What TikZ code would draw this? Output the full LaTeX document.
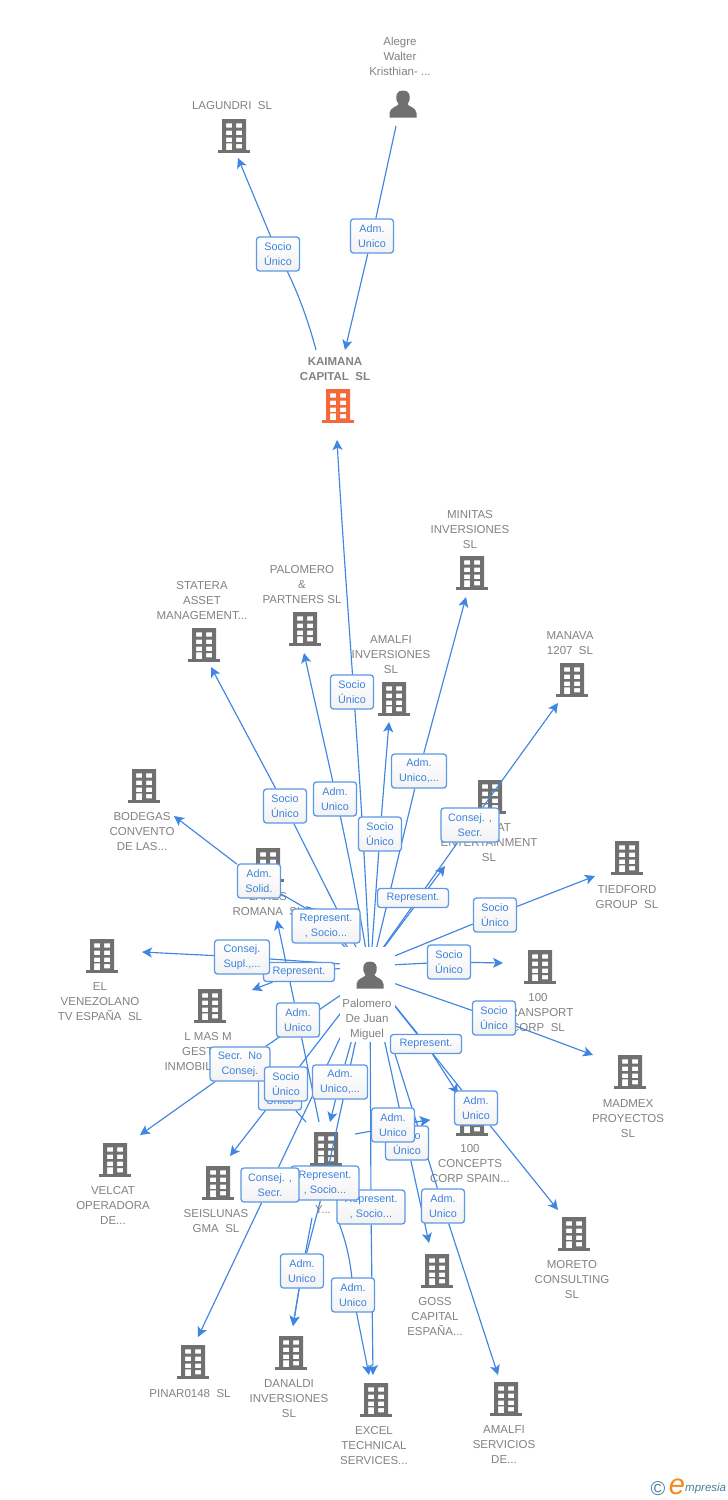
\documentclass[tikz,border=0pt]{standalone}
\usepackage{fontspec}
\setmainfont{Liberation Sans}
\usetikzlibrary{arrows.meta,calc}
\definecolor{edgeblue}{HTML}{3F86E2}
\definecolor{labtext}{HTML}{3E82DC}
\definecolor{nametext}{HTML}{828282}
\definecolor{iconcol}{HTML}{707070}
\definecolor{maincol}{HTML}{F4683A}
\definecolor{logocol}{HTML}{4A7F9A}
\definecolor{logoor}{HTML}{F28A1E}
\pgfdeclarelayer{base}\pgfdeclarelayer{edges}\pgfdeclarelayer{cover}
\pgfsetlayers{base,edges,cover,main}
\tikzset{
  pics/bldg/.style={code={
    \fill[#1,even odd rule]
      (-12,-18) rectangle (12,14)
      (-8,-13.7) rectangle (-2,-9.3) (2,-13.7) rectangle (8,-9.3)
      (-8,-6.3) rectangle (-2,-2) (2,-6.3) rectangle (8,-2)
      (-8,0.7) rectangle (-2,5) (2,0.7) rectangle (8,5)
      (-8,6.3) rectangle (-2,14) (2,7) rectangle (8,11.3);
    \fill[#1] (-16,13) rectangle (16,16);
  }},
  pics/person/.style={code={
    \fill[iconcol] (0,-13.5) .. controls (-6,-13.5) and (-7.5,-9) .. (-6.5,-4)
      .. controls (-6,-2) and (-5,-1) .. (-4.5,0)
      .. controls (-5,2.5) and (-13,3) .. (-13.5,9) -- (-13.5,13.5) -- (13.5,13.5) -- (13.5,9)
      .. controls (13,3) and (5,2.5) .. (4.5,0)
      .. controls (5,-1) and (6,-2) .. (6.5,-4)
      .. controls (7.5,-9) and (6,-13.5) .. (0,-13.5) -- cycle;
  }},
  nametxt/.style={inner sep=0pt,anchor=north,yshift=3.6pt,align=center,text=nametext,
    font=\fontsize{11.5}{15}\selectfont,execute at begin node=\strut},
  edge/.style={draw=edgeblue,line width=1.15pt},
  tip/.style={edge,-{Stealth[length=10pt,width=10pt,inset=2.5pt]}},
  lab/.style={draw=edgeblue!85!white,line width=1.3pt,rounded corners=3pt,top color=white,bottom color=black!5,
    inner sep=0pt,minimum height=34pt,align=center,text=labtext,
    font=\fontsize{10.8}{15}\selectfont,minimum width=#1},
  lab/.default=43pt,
  lab1/.style={lab=#1,minimum height=19pt},
}
\newcommand{\company}[7][iconcol]{%
  \coordinate (b#2) at (#3,#4);
  \pic at (b#2) {bldg=#1};
  \node[nametxt] (t#2) at (#5,#6) {#7};
}
\begin{document}
\begin{tikzpicture}[x=1pt,y=-1pt]
\useasboundingbox (0,0) rectangle (728,1500);
% ---- companies and persons
\begin{pgfonlayer}{base}
\fill[white] (0,0) rectangle (728,1500);
\company{lag}{234}{137}{232}{102.2}{LAGUNDRI~~SL}
\company[maincol]{kai}{338}{407}{335}{361}{\textbf{KAIMANA}\\\textbf{CAPITAL~~SL}}
\company{min}{472}{574}{470}{514}{MINITAS\\INVERSIONES\\SL}
\company{sta}{204}{646}{202}{585}{STATERA\\ASSET\\MANAGEMENT...}
\company{pp}{305}{630}{302}{569}{PALOMERO\\\&\\PARTNERS SL}
\company{ami}{394}{700}{391}{639}{AMALFI\\INVERSIONES\\SL}
\company{man}{572}{681}{570}{635}{MANAVA\\1207~~SL}
\company{bod}{144}{787}{142}{816}{BODEGAS\\CONVENTO\\DE LAS...}
\company{ent}{490}{798}{489}{827}{VELCAT\\ENTERTAINMENT\\SL}
\company{rom}{268}{866}{268}{896}{LARES\\ROMANA~~SL}
\company{tie}{627}{859}{627}{889}{TIEDFORD\\GROUP~~SL}
\company{ven}{102}{957}{100}{986}{EL\\VENEZOLANO\\TV ESPAÑA~~SL}
\company{tra}{540}{968}{538}{997}{100\\TRANSPORT\\CORP~~SL}
\company{lma}{210}{1007}{208}{1036}{L MAS M\\GESTION\\INMOBILIARIA...}
\company{mad}{630}{1073}{628}{1103}{MADMEX\\PROYECTOS\\SL}
\company{vel}{115}{1161}{113}{1190}{VELCAT\\OPERADORA\\DE...}
\company{con}{472}{1120}{470}{1148}{100\\CONCEPTS\\CORP SPAIN...}
\company{cen}{326}{1150}{323}{1206.2}{Y...}
\company{sei}{218}{1184}{216}{1213}{SEISLUNAS\\GMA~~SL}
\company{mor}{574}{1235}{572}{1264}{MORETO\\CONSULTING\\SL}
\company{gos}{437}{1272}{435}{1301}{GOSS\\CAPITAL\\ESPAÑA...}
\company{pin}{193}{1363}{190}{1390.2}{PINAR0148~~SL}
\company{dan}{291}{1354}{289}{1383}{DANALDI\\INVERSIONES\\SL}
\company{exc}{376}{1401}{374}{1430}{EXCEL\\TECHNICAL\\SERVICES...}
\company{ase}{506}{1400}{504}{1429}{AMALFI\\SERVICIOS\\DE...}
\coordinate (ale) at (403,104);
\pic at (ale) {person};
\node[nametxt] (tale) at (400,41) {Alegre\\Walter\\Kristhian-~...};
\end{pgfonlayer}
% ---- the central person
\begin{pgfonlayer}{cover}
\fill[white] (340,947) rectangle (395,1042);
\coordinate (pal) at (370,975);
\coordinate (palh) at (370,966);
\pic at (pal) {person};
\node[nametxt] (tpal) at (367,1003) {Palomero\\De Juan\\Miguel};
\end{pgfonlayer}
% ---- free ends
\foreach \n/\x/\y in {akai/316/350,aale/396/126,
  hlag/238/158,hkai1/345/350,hkai2/337/440,hsta/211/667,hpp/304/653,hami/389/722,hmin/466/597,
  hman/558/703,hent/445/866,htie/595/876,htra/503/963,hmad/593/1055,hcon/458/1094,hmor/558/1210,
  hase/498/1375,hgos/429/1243,hexc1/373/1375,hexc2/369/1375,hcen/330/1122,hcc/430/1120,
  hdan/293/1326,hpin/198/1337,hsei/230/1156,hvel/140/1135,hven/142/952,hlma/252/990,hbod/174/816,
  hrom/277/920,hrep/306/906,
  crom/319/1122,csoc/306/1122,ccon/355/1134,ccon2/372/1131,cdan/312/1218,cexc/337/1218}
  {\coordinate (\n) at (\x,\y);}
% ---- labels
\node[lab] (l01) at (278,254) {Socio\\Único};
\node[lab] (l02) at (372,236) {Adm.\\Unico};
\node[lab] (l03) at (352,692) {Socio\\Único};
\node[lab] (l04) at (285,806) {Socio\\Único};
\node[lab] (l05) at (335,799) {Adm.\\Unico};
\node[lab] (l06) at (380,834) {Socio\\Único};
\node[lab=55pt] (l07) at (419,771) {Adm.\\Unico,...};
\node[lab=58pt] (l08) at (470,825) {Consej. ,\\Secr.};
\node[lab1=71pt] (l09) at (413,898) {Represent.};
\node[lab] (l10) at (495,915) {Socio\\Único};
\node[lab] (l11) at (449,962) {Socio\\Único};
\node[lab] (l12) at (494,1018) {Socio\\Único};
\node[lab1=71pt] (l13) at (426,1044) {Represent.};
\node[lab] (l14) at (476,1108) {Adm.\\Unico};
\node[lab] (l15) at (443,1206) {Adm.\\Unico};
\node[lab] (l16) at (407,1143) {Socio\\Único};
\node[lab=68pt] (l17) at (371,1207) {Represent.\\, Socio...};
\node[lab] (l18) at (393,1125) {Adm.\\Unico};
\node[lab=68pt] (l19) at (325,1183) {Represent.\\, Socio...};
\node[lab] (l20) at (302,1271) {Adm.\\Unico};
\node[lab] (l21) at (353,1295) {Adm.\\Unico};
\node[lab=58pt] (l22) at (270,1185) {Consej. ,\\Secr.};
\node[lab] (l23) at (280,1093) {Socio\\Único};
\node[lab=55pt] (l24) at (340,1082) {Adm.\\Unico,...};
\node[lab=60pt] (l25) at (240,1064) {Secr.~~No\\Consej.};
\node[lab] (l26) at (286,1084) {Socio\\Único};
\node[lab] (l27) at (298,1020) {Adm.\\Unico};
\node[lab1=71pt] (l28) at (299,972) {Represent.};
\node[lab=55pt] (l29) at (242,957) {Consej.\\Supl.,...};
\node[lab=68pt] (l30) at (326,926) {Represent.\\, Socio...};
\node[lab] (l31) at (259,881) {Adm.\\Solid.};
% ---- connectors
\begin{pgfonlayer}{edges}
\draw[tip] (akai) .. controls (306,312) and (292,278) .. (l01.center) -- (hlag);
\draw[tip] (aale) -- (l02) -- (hkai1);
\draw[tip] (pal) .. controls (362,780) and (346,600) .. (hkai2);
\draw[tip] (pal) -- (l04) -- (hsta);
\draw[tip] (pal) .. controls (352,860) and (330,770) .. (hpp);
\draw[tip] (pal) -- (l06) -- (hami);
\draw[tip] (pal) -- (l07) -- (hmin);
\draw[tip] (palh) -- (l08) -- (hman);
\draw[tip] (palh) -- (hent);
\draw[tip] (palh) -- (l10) -- (htie);
\draw[tip] (palh) -- (l11) -- (htra);
\draw[tip] (pal) -- (l12) -- (hmad);
\draw[tip] (pal) -- (l13) -- (hcon);
\draw[tip] (pal) -- (l14) -- (hmor);
\draw[tip] (pal) -- (l15) -- (hase);
\draw[tip] (pal) -- (l16) -- (hgos);
\draw[tip] (pal) -- (l17) -- (hexc1);
\draw[tip] (ccon) -- (ccon2) -- (l18) -- (hcc);
\draw[tip] (l18) -- (hcc);
\draw[tip] (pal) -- (l19) -- (l20) -- (hdan);
\draw[tip] (cdan) -- (l20) -- (hdan);
\draw[tip] (cexc) .. controls (345,1238) and (352,1262) .. (l21.center) -- (hexc2);
\draw[tip] (pal) -- (l22) -- (hpin);
\draw[edge] (csoc) -- (l23);
\draw[tip] (pal) -- (l24) -- (hcen);
\draw[tip] (pal) -- (l25) -- (hvel);
\draw[tip] (pal) -- (l26) -- (hsei);
\draw[tip] (crom) -- (l27) -- (hrom);
\draw[tip] (palh) -- (l28) -- (hlma);
\draw[tip] (palh) -- (l29) -- (hven);
\draw[tip] (pal) -- (l30) -- (hrep);
\draw[tip] (pal) -- ([yshift=6pt]l30.center) -- (l31) -- (hbod);
\end{pgfonlayer}
% ---- logo
\node[text=logocol,inner sep=0pt,font=\fontsize{20}{20}\selectfont] (logoc) at (658,1489) {©};
\node[text=logoor,inner sep=0pt,font=\fontsize{29}{29}\selectfont\itshape] (logoe) at (677,1487) {e};
\node[text=logocol,inner sep=0pt,anchor=west,font=\fontsize{11.5}{12}\selectfont\itshape] (logot) at (685,1489) {mpresia};
\end{tikzpicture}
\end{document}
